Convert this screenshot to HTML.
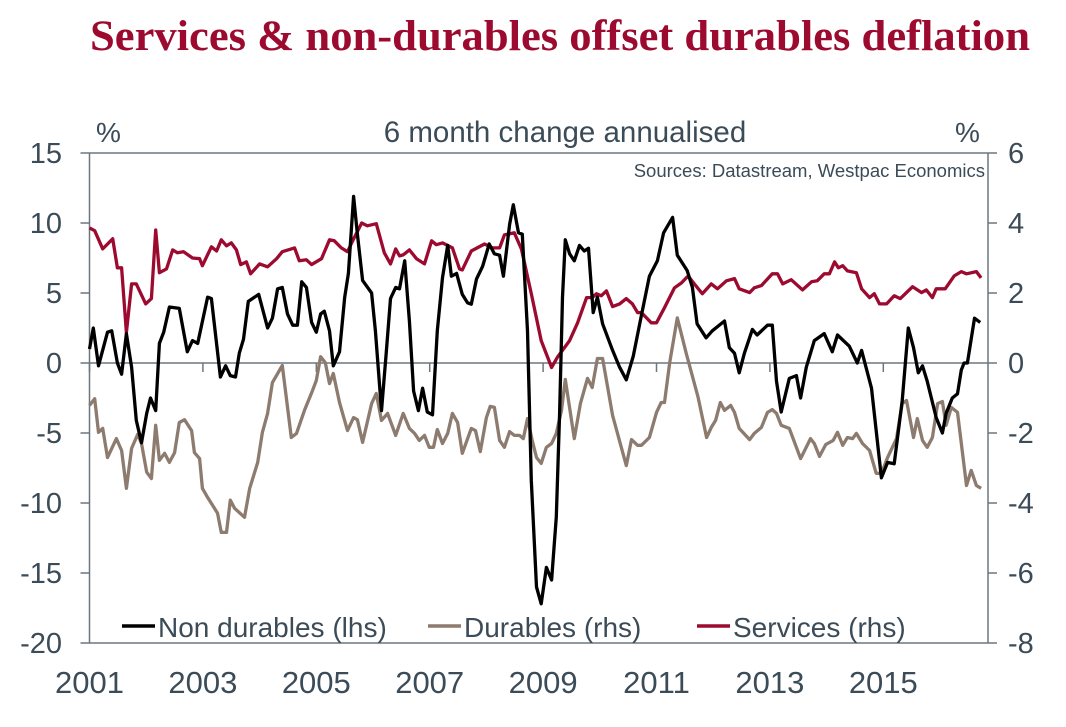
<!DOCTYPE html>
<html><head><meta charset="utf-8">
<style>
html,body{margin:0;padding:0;background:#fff;}
body{width:1066px;height:722px;overflow:hidden;}
svg text{font-family:"Liberation Sans",sans-serif;}
</style></head>
<body>
<svg id="chart" width="1066" height="722" viewBox="0 0 1066 722" xmlns="http://www.w3.org/2000/svg">
<text x="560" y="50" text-anchor="middle" textLength="940" lengthAdjust="spacingAndGlyphs" style="font-family:'Liberation Serif',serif;font-weight:bold;font-size:43px;fill:#9c0a2f">Services &amp; non-durables offset durables deflation</text>
<text x="565" y="142" text-anchor="middle" style="font-size:29.5px;fill:#3b4b57">6 month change annualised</text>
<text x="96" y="142" style="font-size:28px;fill:#3b4b57">%</text>
<text x="955" y="142" style="font-size:28px;fill:#3b4b57">%</text>
<text x="985" y="177" text-anchor="end" style="font-size:18.5px;fill:#3b4b57">Sources: Datastream, Westpac Economics</text>
<g id="axes"></g>
<g id="series"></g>
<g id="legend">
 <line x1="122" y1="626" x2="155" y2="626" stroke="#000" stroke-width="3.5"/>
 <text x="158" y="637" style="font-size:28px;fill:#3b4b57">Non durables (lhs)</text>
 <line x1="428" y1="626" x2="461" y2="626" stroke="#8c7b6e" stroke-width="3.5"/>
 <text x="464" y="637" style="font-size:28px;fill:#3b4b57">Durables (rhs)</text>
 <line x1="697" y1="626" x2="730" y2="626" stroke="#9c0a2f" stroke-width="3.5"/>
 <text x="733" y="637" style="font-size:28px;fill:#3b4b57">Services (rhs)</text>
</g>
</svg>
<script>
// months since Jan 2001
const ndMonths=[0,0.8,1.9,3.8,4.7,5.9,6.8,7.8,8.9,9.9,11,12.1,12.9,14,14.8,15.7,16.9,19,20.7,21.8,22.9,25,25.8,27.7,28.8,29.8,30.9,31.7,32.6,33.6,35.8,37.7,38.7,39.8,40.8,41.9,43,44,44.9,45.9,47,48,48.9,49.7,50.8,51.6,52.9,54,54.8,55.9,56.7,57.8,59.7,60.5,61.8,62.8,63.7,64.8,65.6,66.7,67.7,68.6,69.6,70.5,71.5,72.6,73.6,74.7,75.8,76.6,77.7,78.9,80,80.8,81.9,83.2,84.6,85.7,86.8,87.6,88.9,89.7,90.8,91.6,92.7,93.5,94.6,95.6,96.7,97.8,98.8,99.5,100.1,100.7,101.6,102.6,103.7,104.7,105.6,106.6,107.5,108.6,110.7,112.2,113.6,115.1,116.8,118.5,120.2,121.5,123.4,124.4,126.5,127.6,128.6,130.5,131.8,134.4,135.4,136.5,137.5,138.6,140.3,141.3,143.5,144.5,145.4,146.4,148.1,149.6,150.5,151.7,153.4,155.5,157.2,158.3,160.8,162.5,163.4,165.5,167.6,168.9,170.3,172,173.3,174.4,175.4,176.3,177.3,179.2,180.5,181.3,182.6,183.7,184.5,185.1,185.8,187.3,188.5];
const ndValues=[1.0,2.5,-0.2,2.2,2.3,0,-0.8,2.1,-0.3,-4.1,-5.7,-3.6,-2.5,-3.4,1.4,2.2,4.0,3.9,0.8,1.6,1.4,4.7,4.6,-1.0,-0.2,-0.9,-1.0,0.7,1.7,4.4,4.9,2.5,3.2,5.3,5.4,3.5,2.7,2.7,5.8,5.4,2.9,2.2,3.5,3.7,2.3,-0.2,0.8,4.7,6.4,11.9,9.2,5.9,5.0,2.3,-3.4,0.7,4.6,5.4,5.3,7.3,3.0,-2.0,-3.4,-1.8,-3.5,-3.7,2.3,6.1,8.4,6.2,6.4,4.9,4.3,4.2,6.0,6.9,8.5,7.8,7.7,6.2,9.9,11.3,9.3,9.2,2.3,-8.4,-16.0,-17.2,-14.6,-15.5,-11.0,-3.6,4.7,8.8,7.8,7.3,8.4,8.0,8.2,3.6,4.7,2.8,0.9,-0.3,-1.2,0.5,3.4,6.2,7.3,9.3,10.4,7.7,6.6,5.4,2.8,1.8,2.3,3.0,1.1,0.7,-0.7,0.7,2.4,2.0,2.7,2.7,-1.3,-3.5,-1.1,-0.9,-2.5,-0.3,1.6,2.1,0.8,2.0,1.2,0,0.9,-1.8,-8.2,-7.1,-7.2,-2.7,2.5,1.1,-0.7,-0.2,-1.3,-3.9,-5.0,-3.6,-2.5,-2.2,-0.5,0,0,3.2,2.9];
const durMonths=[0,1.1,1.9,2.8,3.8,5.7,6.8,7.8,8.9,10.2,11,12.1,13.1,14,14.8,15.9,16.9,18,19,20.1,21.6,22.2,23.3,23.9,25,27.1,27.9,29,29.8,30.7,32.8,33.9,35.6,36.6,37.7,38.7,40.8,42.7,43.8,45.5,47.2,48,48.9,49.9,50.8,51.6,52.9,54.6,55.9,56.7,57.8,59.7,60.7,61.8,63.1,64.8,66.4,67.7,68.8,69.8,70.9,71.9,72.8,73.6,74.7,75.8,76.8,77.9,78.9,80.8,81.7,82.7,84,84.8,85.7,86.8,87.8,88.9,89.9,91,91.8,92.7,93.7,94.6,95.6,96.7,97.8,98.8,99.9,100.7,102.6,103.9,105.4,106.4,107.5,108.6,110.7,113.6,114.7,116,116.8,118.5,120,121,121.7,122.8,124.4,126.3,128.8,130.6,131.6,132.5,133.5,134.4,135.7,136.5,137.5,139.7,140.7,142.2,143.5,144.5,145.4,146.4,148.1,150.5,152.6,153.4,154.5,155.8,157.4,158.3,159.4,160.4,161.5,162.3,163.6,165.1,166.5,167.6,168.9,170.8,172,172.9,174.4,175.2,176.3,177.3,178.4,179.5,180.5,181.3,182.4,183.7,185.6,186.6,187.7,188.7];
const durValues=[-1.21,-1.02,-1.98,-1.87,-2.70,-2.16,-2.50,-3.58,-2.44,-2.04,-2.30,-3.12,-3.30,-1.78,-2.78,-2.58,-2.84,-2.56,-1.70,-1.62,-1.93,-2.56,-2.73,-3.58,-3.84,-4.29,-4.84,-4.84,-3.92,-4.15,-4.41,-3.58,-2.84,-1.98,-1.44,-0.56,-0.07,-2.13,-2.01,-1.35,-0.79,-0.50,0.18,0.01,-0.59,-0.30,-1.13,-1.93,-1.56,-1.62,-2.27,-1.16,-0.87,-1.64,-1.44,-2.07,-1.44,-1.87,-2.01,-2.21,-2.07,-2.41,-2.41,-1.90,-2.30,-2.01,-1.44,-1.70,-2.58,-1.87,-1.93,-2.53,-1.56,-1.24,-1.27,-2.21,-2.41,-1.96,-2.07,-2.07,-2.16,-1.59,-2.21,-2.70,-2.87,-2.41,-2.30,-2.01,-1.35,-0.47,-2.16,-1.16,-0.44,-0.70,0.13,0.13,-1.50,-2.93,-2.19,-2.35,-2.35,-2.13,-1.41,-1.13,-1.13,0.01,1.29,0.27,-0.98,-2.13,-1.84,-1.64,-1.13,-1.35,-1.21,-1.41,-1.87,-2.19,-2.01,-1.84,-1.41,-1.33,-1.44,-1.78,-1.87,-2.73,-2.16,-2.30,-2.67,-2.33,-2.21,-1.98,-2.35,-2.13,-2.16,-2.01,-2.30,-2.50,-3.15,-3.15,-2.70,-2.16,-1.16,-1.07,-2.13,-1.59,-2.21,-2.41,-2.13,-1.16,-1.10,-1.78,-1.27,-1.41,-3.50,-3.07,-3.50,-3.58];
const svcMonths=[0,1.1,2.8,4.9,5.9,6.8,7.8,8.9,9.9,11.9,13.1,14,14.8,16.3,17.6,18.6,19.9,21.8,23.3,23.9,25.8,26.9,27.9,29,30,31.1,32,33.2,34.1,36,37.7,39.6,40.8,43.4,44.4,45.9,47,49.1,50.8,51.8,53.3,54.6,55.7,57.6,58.8,60.7,62.4,63.7,64.8,65.6,66.4,67.7,69.2,70.9,72.4,73.4,74.7,76.8,78.3,78.9,80.8,83.6,85.3,86.8,87.8,89.9,91.4,93.5,95.6,97.8,99,101.6,103.3,105.2,106.4,107.3,108.3,109.4,110.7,112.2,113.6,114.9,116,116.8,118.9,120,121.7,123.8,125.3,126.5,127,128,129.7,131.6,132.9,134.8,136.5,137.5,139.7,140.7,142.2,144.5,145.6,146.7,148.5,150.9,152.8,154,155.5,156.6,157.7,158.5,159.4,160.4,162.3,163.4,165.1,166.1,167.2,168.7,170.3,171.6,174.2,176.1,177.1,178.4,179.2,181.1,183,184.5,185.6,187.7,188.7];
const svcValues=[3.86,3.78,3.26,3.55,2.72,2.72,0.87,2.26,2.26,1.69,1.84,3.8,2.58,2.69,3.23,3.15,3.18,3.0,2.98,2.78,3.32,3.2,3.52,3.35,3.43,3.23,2.81,2.89,2.55,2.83,2.75,2.98,3.18,3.29,2.92,2.95,2.81,2.98,3.52,3.49,3.29,3.18,3.49,4.0,3.92,3.98,3.15,2.83,3.26,3.06,3.09,3.23,2.98,2.83,3.49,3.38,3.43,3.29,2.69,2.66,3.2,3.4,3.29,3.29,3.66,3.72,3.26,1.98,0.64,-0.13,0.16,0.64,1.15,1.87,1.87,1.98,1.92,2.06,1.61,1.69,1.84,1.69,1.44,1.44,1.15,1.15,1.58,2.15,2.29,2.46,2.43,2.26,1.98,2.26,2.12,2.35,2.41,2.12,2.01,2.15,2.21,2.55,2.55,2.26,2.38,2.09,2.32,2.35,2.55,2.55,2.89,2.72,2.78,2.63,2.58,2.12,1.87,1.98,1.69,1.69,1.92,1.84,2.18,2.01,2.09,1.87,2.12,2.12,2.49,2.61,2.55,2.61,2.43];
const leftTicks=[15,10,5,0,-5,-10,-15,-20];
const rightTicks=[6,4,2,0,-2,-4,-6,-8];
const yearLabels=["2001","2003","2005","2007","2009","2011","2013","2015"];

const NS="http://www.w3.org/2000/svg";
const PL=89.5,PR=988,PT=153,PB=643;
function xScale(m){return PL+m*(113.4/24);}
function yL(v){return PT+(15-v)*(PB-PT)/35;}
function yR(v){return PT+(6-v)*(PB-PT)/14;}
function mk(tag,attrs,parent){const e=document.createElementNS(NS,tag);for(const k in attrs)e.setAttribute(k,attrs[k]);parent.appendChild(e);return e;}
const axes=document.getElementById('axes');
const col="#6b7780",txt="#3b4b57";
let a;
a=mk('line',{x1:PL,y1:PT,x2:PR,y2:PT,stroke:col,'stroke-width':1.5},axes);


a=mk('line',{x1:PL,y1:PT,x2:PL,y2:PB,stroke:col,'stroke-width':1.5},axes);


a=mk('line',{x1:PR,y1:PT,x2:PR,y2:PB,stroke:col,'stroke-width':1.5},axes);


a=mk('line',{x1:PL,y1:yL(0),x2:PR,y2:yL(0),stroke:col,'stroke-width':1.5},axes);


a=mk('line',{x1:PL,y1:PB,x2:PR,y2:PB,stroke:col,'stroke-width':1.5},axes);


leftTicks.forEach(v=>{
  const y=yL(v);
  const t=mk('line',{x1:PL-9,y1:y,x2:PL,y2:y,stroke:col,'stroke-width':1.5},axes);
  
  
  const l=mk('text',{x:62,y:y+10,'text-anchor':'end',style:'font-size:29px;fill:'+txt},axes);
  l.textContent=v;
  
  
});
rightTicks.forEach(v=>{
  const y=yR(v);
  const t=mk('line',{x1:PR,y1:y,x2:PR+9,y2:y,stroke:col,'stroke-width':1.5},axes);
  
  
  const l=mk('text',{x:1008,y:y+10,'text-anchor':'start',style:'font-size:29px;fill:'+txt},axes);
  l.textContent=v;
  
  
});
yearLabels.forEach((s,i)=>{
  const x=xScale(i*24);
  const t=mk('line',{x1:x,y1:yL(0),x2:x,y2:yL(0)+9,stroke:col,'stroke-width':1.5},axes);
  
  
  const l=mk('text',{x:x,y:693,'text-anchor':'middle',style:'font-size:31px;fill:'+txt},axes);
  l.textContent=s;
  
  
});
const ser=document.getElementById('series');
function line(ms,vs,yf){
  return ms.map((m,i)=>(i?'L':'M')+xScale(m).toFixed(1)+','+yf(vs[i]).toFixed(1)).join(' ');
}
let p;
p=mk('path',{d:line(durMonths,durValues,yR),fill:'none',stroke:'#8c7b6e','stroke-width':3.3,'stroke-linejoin':'round'},ser);


p=mk('path',{d:line(svcMonths,svcValues,yR),fill:'none',stroke:'#9c0a2f','stroke-width':3.3,'stroke-linejoin':'round'},ser);


p=mk('path',{d:line(ndMonths,ndValues,yL),fill:'none',stroke:'#000','stroke-width':3.3,'stroke-linejoin':'round'},ser);


</script>
</body></html>
